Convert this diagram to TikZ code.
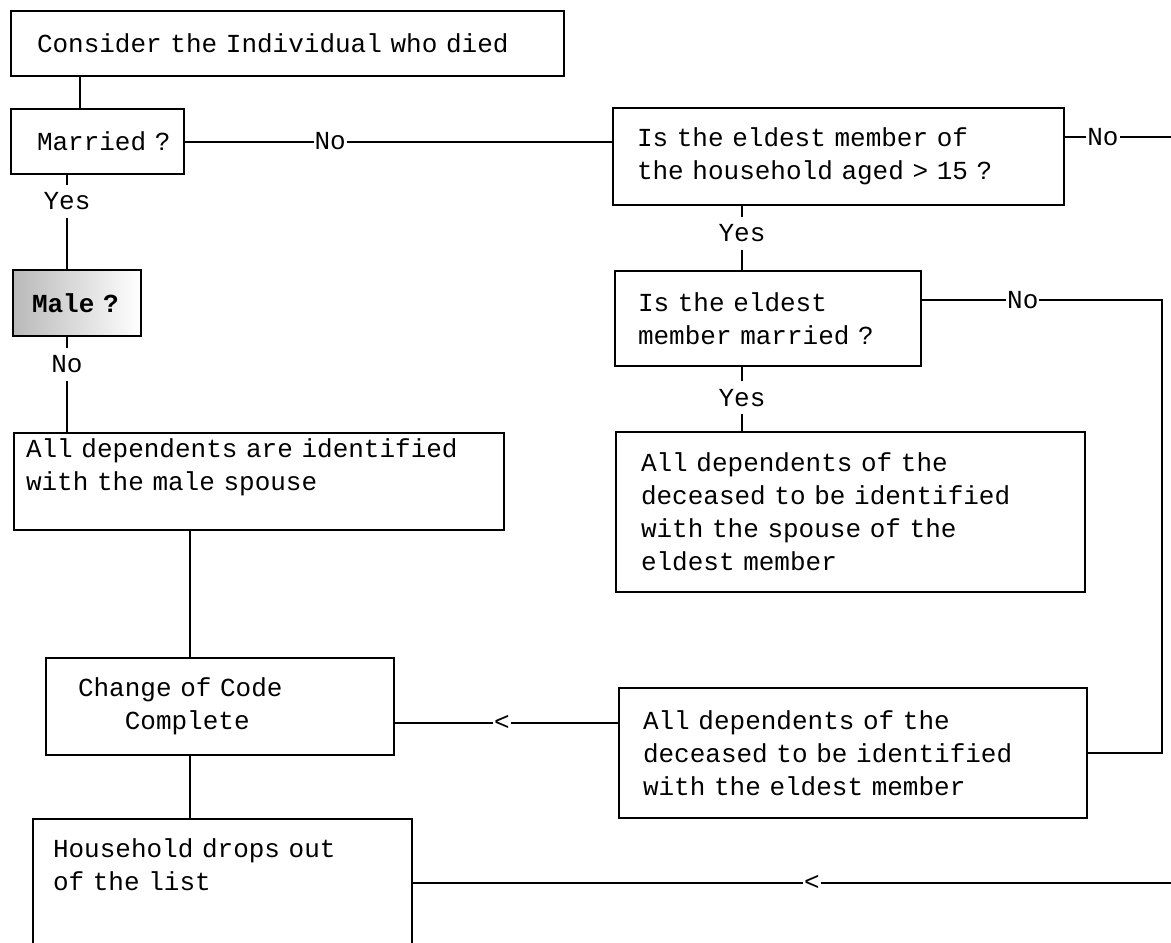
\documentclass[tikz,border=0pt]{standalone}
\usepackage{fontspec}
\setmonofont{Liberation Mono}
\DeclareRobustCommand{\nodefont}{\ttfamily\fontsize{26}{33}\selectfont}

\begin{document}
\begin{tikzpicture}
        [x=1pt,y=-1pt,every node/.style={font=\nodefont},
        box/.style={draw,line width=2pt,anchor=north west,align=left,inner ysep=0pt},
        lbl/.style={fill=white,inner xsep=1pt,inner ysep=8pt}]

        \path[use as bounding box,clip] (0,0) rectangle (1171,943);

        \node[box,inner xsep=26pt,text width=501pt,minimum height=65pt] (1) at (10,10) {Consider the Individual who died};
        \node[box,inner xsep=26pt,text width=121pt,minimum height=65pt] (2) at (10,108) {Married~?};
        \node[box,inner xsep=19pt,text width=90pt,minimum height=66pt,left color=gray!55,right color=white] (3) at (12,269) {\textbf{Male~?}};
        \node[box,inner xsep=12pt,text width=466pt,minimum height=97pt] (4) at (13,432) {All dependents are identified\\with the male spouse\\\mbox{}};
        \node[box,inner xsep=32pt,text width=284pt,minimum height=97pt] (5) at (45,657) {Change of Code\\\phantom{000}Complete};
        \node[box,inner xsep=20pt,text width=339pt,minimum height=157pt] (6) at (32,818) {Household drops out\\of the list\\\mbox{}\\\mbox{}};
        \node[box,inner xsep=24pt,text width=403pt,minimum height=97pt] (7) at (612,107) {Is the eldest member of\\the household aged > 15 ?};
        \node[box,inner xsep=23pt,text width=260pt,minimum height=95pt] (8) at (614,270) {Is the eldest\\member married ?};
        \node[box,inner xsep=25pt,text width=419pt,minimum height=160pt] (9) at (615,431) {All dependents of the\\deceased to be identified\\with the spouse of the\\eldest member};
        \node[box,inner xsep=24pt,text width=420pt,minimum height=130pt] (10) at (618,687) {All dependents of the\\deceased to be identified\\with the eldest member};

        \coordinate (a) at (80,0);
        \coordinate (b) at (67,0);
        \coordinate (c) at (190,0);
        \coordinate (d) at (742,0);
        \coordinate (e) at (1162,300);
        \coordinate (f) at (1180,137);
        \coordinate (g) at (0,723);
        \coordinate (h) at (1180,883);

        \draw[line width=2pt] (1.south -| a) -- (2.north -| a);
        \draw[line width=2pt] (2.east) -- node[lbl,pos=0.34] {No} (2.east -| 7.west);
        \draw[line width=2pt] (2.south -| b) -- node[lbl,pos=0.28] {Yes} (3.north -| b);
        \draw[line width=2pt] (3.south -| b) -- node[lbl,pos=0.29] {No} (4.north -| b);
        \draw[line width=2pt] (4.south -| c) -- (5.north -| c);
        \draw[line width=2pt] (5.south -| c) -- (6.north -| c);
        \draw[line width=2pt] (7.east |- f) -- node[lbl,pos=0.33] {No} (f);
        \draw[line width=2pt] (7.south -| d) -- node[lbl,pos=0.43] {Yes} (8.north -| d);
        \draw[line width=2pt] (8.south -| d) -- node[lbl,pos=0.48] {Yes} (9.north -| d);
        \draw[line width=2pt] (8.east |- e) -- node[lbl,pos=0.42] {No} (e) |- (10.east);
        \draw[line width=2pt] (10.west |- g) -- node[lbl,pos=0.52] {<} (5.east |- g);
        \draw[line width=2pt] (h) -- node[lbl,pos=0.48] {<} (6.east |- h);

      \end{tikzpicture}
\end{document}
